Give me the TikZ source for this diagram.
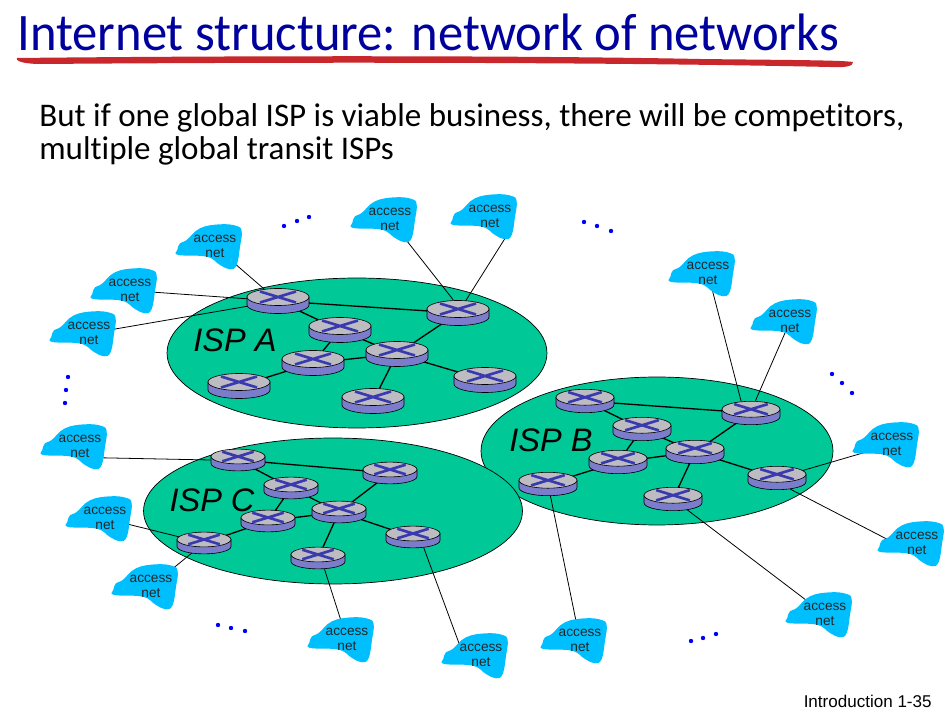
\documentclass[tikz,border=0pt]{standalone}
\usepackage{fontspec}
\setmainfont{Carlito}[Ligatures=NoCommon]
\newfontfamily\titlefont[FakeStretch=0.96,Ligatures=NoCommon]{Carlito}
\newfontfamily\labelfont{Liberation Sans}
\usetikzlibrary{shapes.geometric,arrows.meta}
\pgfdeclarelayer{ispback}
\pgfdeclarelayer{linkback}
\pgfsetlayers{ispback,linkback,main}
\definecolor{ispgreen}{HTML}{00C896}
\definecolor{cloudblue}{HTML}{00BFFF}
\definecolor{titleblue}{HTML}{00009C}
\definecolor{inkred}{HTML}{C8282C}
\definecolor{crossblue}{HTML}{3A3AB0}
\definecolor{sideblue}{HTML}{7C7CCC}
\definecolor{topgrey}{HTML}{BCBCC2}
\tikzset{
  ispdisc/.style={ellipse, draw=black, line width=0.4pt, fill=ispgreen, inner sep=0pt},
  isplabel/.style={font=\labelfont\itshape\fontsize{18.5}{20}\selectfont},
  accesslabel/.style={font=\labelfont\fontsize{7.8}{8.2}\selectfont, align=center, inner sep=0pt, text=black!85, yshift=-0.03cm},
  routernode/.style={ellipse, minimum width=#1*0.02cm, minimum height=#1*0.02cm*0.42, inner sep=0pt},
  corelink/.style={line width=0.75pt},
  edgelink/.style={line width=0.45pt}
}
% one router: name, x, y, half width
\newcommand{\router}[4]{
  \begin{scope}[shift={(#2,#3)}, x=#4/31*0.02cm, y=-#4/31*0.02cm]
    \draw[fill=sideblue, line width=0.35pt] (-31,-4) -- (-31,4) arc[start angle=180, end angle=0, x radius=31, y radius=8.5] -- (31,-4) -- cycle;
    \draw[fill=topgrey, line width=0.35pt] (0,-4) ellipse[x radius=31, y radius=8.5];
    \draw[crossblue, line width=1.5pt] (-18,-9.5) -- (18,1.5) (-18,1.5) -- (18,-9.5);
  \end{scope}
  \node[routernode=2*#4] (#1) at (#2,#3) {};
}
% one access network: name, x, y
\newcommand{\accessnet}[3]{
  \fill[cloudblue, shift={(#2,#3)}] plot[smooth cycle, tension=0.7] coordinates {(-36.7,10) (-8.3,11.7) (5,20) (15,24.3) (21.7,20) (25,1.7) (26.7,-13.3) (21.7,-19) (5,-20.7) (-15,-16.7) (-28.3,-5) (-35,-1.7) (-37.7,5)};
  \node[accesslabel] (#1) at (#2,#3) {access\\net};
}
\begin{document}
\begin{tikzpicture}[x=0.02cm, y=-0.02cm]
  \useasboundingbox (0,0) rectangle (947,712);

  \node[anchor=base west, inner sep=0pt, text=titleblue, font=\titlefont\fontsize{30}{32}\selectfont] (title) at (17,51) {Internet structure: network of networks};
  \fill[inkred] (17,58) .. controls (200,56) and (500,55) .. (700,59) .. controls (780,60) and (840,60) .. (853,62) .. controls (854,66) and (845,68) .. (830,67) .. controls (600,62) and (300,62) .. (40,64) .. controls (28,64) and (15,62) .. (17,58) -- cycle;
  \node[anchor=base west, inner sep=0pt, font=\fontsize{18.8}{32}\selectfont] (bodytext) at (39,127) {But if one global ISP is viable business, there will be competitors,};
  \node[anchor=base west, inner sep=0pt, font=\fontsize{18.8}{32}\selectfont] (bodytwo) at (39,160) {multiple global transit ISPs};
  \node[anchor=base east, inner sep=0pt, font=\labelfont\fontsize{9.7}{11}\selectfont] (footer) at (932,707) {Introduction 1-35};

  \begin{pgfonlayer}{ispback}
    \node[ispdisc, minimum width=7.6cm, minimum height=3cm] (ispa) at (357,353) {};
    \node[ispdisc, minimum width=7.04cm, minimum height=2.96cm] (ispb) at (657,451) {};
    \node[ispdisc, minimum width=7.58cm, minimum height=2.92cm] (ispc) at (333,511) {};
  \end{pgfonlayer}
  \node[isplabel] (laba) at (235,340) {ISP A};
  \node[isplabel] (labb) at (551,440) {ISP B};
  \node[isplabel] (labc) at (212,500) {ISP C};

  % routers
  \foreach \name/\x/\y in {a1/278/301, a2/458/313, a3/340/330, a4/397/354, a5/313/363, a6/239/386, a7/485/380, a8/373/401}
    \router{\name}{\x}{\y}{31};
  \foreach \name/\x/\y in {b1/585/401, b2/751/413, b3/642/429, b4/695/452, b5/618/462, b6/548/484, b7/777/478, b8/673/499}
    \router{\name}{\x}{\y}{29};
  \foreach \name/\x/\y in {c1/238/460, c2/390/473, c3/291/488, c4/339/512, c5/268/521, c6/204/543, c7/413/537, c8/318/558}
    \router{\name}{\x}{\y}{27};

  % access networks
  \foreach \name/\x/\y in {n1/215/245, n2/130/289, n3/89/332, n4/390/218, n5/490/215, n6/708/272, n7/790/320, n8/892/443, n9/917/542, n10/825/613, n11/580/639, n12/481/654, n13/347/638, n14/151/585, n15/105/517, n16/80/445}
    \accessnet{\name}{\x}{\y};

  \begin{pgfonlayer}{linkback}
    \foreach \p in {a,b,c}
      \foreach \u/\v in {1/2, 1/3, 3/4, 2/4, 4/5, 3/5, 5/6, 4/7, 4/8}
        \draw[corelink] (\p\u.center) -- (\p\v.center);
    \foreach \u/\v in {n1/a1.center, n2/a1.center, n3/a1.center, n4/a2.110, n5.south east/a2.center, n6/b2.130, n7/b2.70, n8/b7.center, n9.west/b7.-40, n10/b8.center, n11/b6.center, n12.north west/c7.-45, n13/c8.-60, n14/c6.center, n15/c6.center, n16.south east/c1.west}
      \draw[edgelink] (\u) -- (\v);
  \end{pgfonlayer}

  % dots between the access networks
  \foreach \x/\y in {284/226, 297/221, 309/217, 584/222, 597/226, 611/231, 68/377, 66/390, 65/403, 832/374, 842/383, 852/393, 218/625, 231/628, 245/631, 691/641, 703/638, 716/634}
    \fill[blue] (\x,\y) circle[radius=2.2];
\end{tikzpicture}
\end{document}
